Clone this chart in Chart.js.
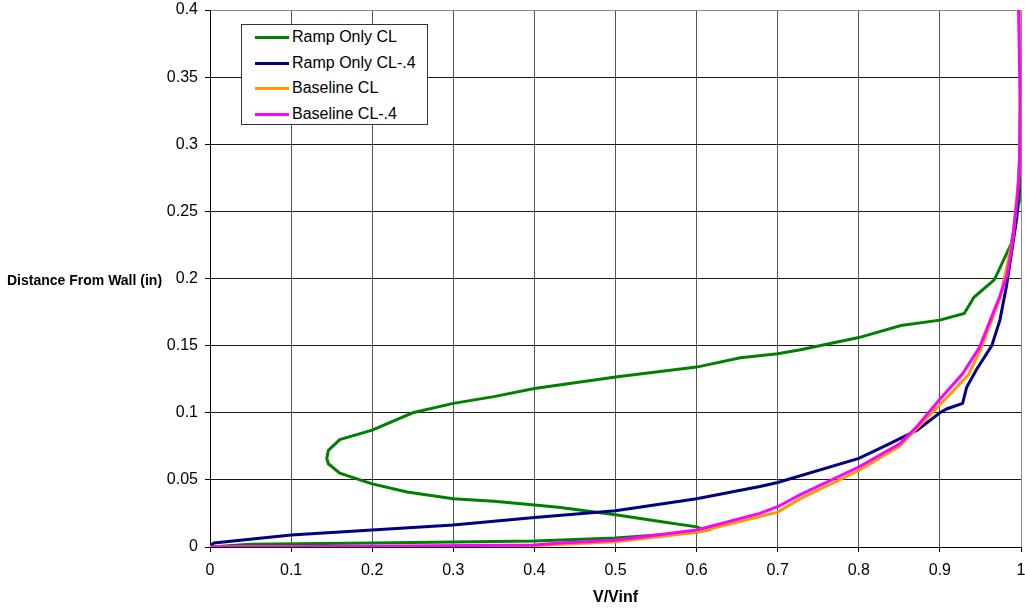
<!DOCTYPE html>
<html>
<head>
<meta charset="utf-8">
<script src="https://cdn.jsdelivr.net/npm/chart.js@4/dist/chart.umd.min.js"></script>
<style>
  html, body { margin: 0; padding: 0; background: #fff; }
  #wrap { position: relative; width: 1025px; height: 614px; font-family: "Liberation Sans", Arial, sans-serif; }
  #c { position: absolute; left: 0; top: 0; }
  #ytitle { position: absolute; left: 7px; top: 271px; font-weight: bold; font-size: 14px; line-height: 18px; color: #000; white-space: nowrap; }
  #legend { position: absolute; left: 241px; top: 24px; width: 185px; height: 99px; border: 1px solid #333; background: #fff; }
  .li { position: absolute; left: 0; height: 20px; font-size: 16px; line-height: 20px; color: #000; white-space: nowrap; }
  .li span.sw { position: absolute; left: 13px; top: 9px; width: 34px; height: 3px; }
  .li span.tx { position: absolute; left: 50px; top: 0; }
</style>
</head>
<body>
<div id="wrap">
  <canvas id="c" width="1025" height="614"></canvas>
  <div id="ytitle">Distance From Wall (in)</div>
  <div id="legend"></div>
</div>
<script>
// ---- Data ----
const seriesNames = ["Ramp Only CL", "Ramp Only CL-.4", "Baseline CL", "Baseline CL-.4"];
const seriesColors = ["#008000", "#000080", "#FF9900", "#FF00FF"];

const rampCL_v = [0, 0.05, 0.2, 0.3, 0.4, 0.5, 0.6, 0.612, 0.6, 0.555, 0.5, 0.432, 0.407, 0.35, 0.3, 0.243, 0.2, 0.16, 0.146, 0.144, 0.146, 0.16, 0.2, 0.25, 0.3, 0.35, 0.4, 0.5, 0.6, 0.654, 0.7, 0.728, 0.8, 0.852, 0.9, 0.93, 0.942, 0.967, 0.971, 0.988, 0.998, 0.999, 1.0, 1.0];
const rampCL_y = [0, 0.002, 0.003, 0.0037, 0.0045, 0.0067, 0.011, 0.0125, 0.015, 0.019, 0.024, 0.0295, 0.031, 0.034, 0.036, 0.041, 0.047, 0.055, 0.062, 0.066, 0.072, 0.080, 0.087, 0.1, 0.107, 0.112, 0.118, 0.1266, 0.134, 0.141, 0.144, 0.147, 0.156, 0.165, 0.169, 0.174, 0.186, 0.199, 0.204, 0.226, 0.258, 0.3, 0.35, 0.4];

const rampCL4_v = [0, 0.005, 0.1, 0.2, 0.3, 0.4, 0.5, 0.6, 0.678, 0.7, 0.8, 0.835, 0.872, 0.9, 0.909, 0.928, 0.933, 0.945, 0.964, 0.974, 0.982, 0.995, 0.999, 1.0];
const rampCL4_y = [0.001, 0.003, 0.009, 0.0127, 0.0164, 0.022, 0.027, 0.036, 0.045, 0.048, 0.066, 0.076, 0.087, 0.100, 0.103, 0.107, 0.119, 0.132, 0.150, 0.169, 0.194, 0.246, 0.3, 0.4];

const baseCL_v = [0, 0.2, 0.4, 0.5, 0.6, 0.7, 0.728, 0.8, 0.85, 0.9, 0.93, 0.935, 0.95, 0.974, 0.99, 0.998, 1.0];
const baseCL_y = [0, 0.0004, 0.001, 0.004, 0.011, 0.026, 0.036, 0.057, 0.075, 0.106, 0.125, 0.128, 0.147, 0.185, 0.23, 0.28, 0.4];

const baseCL4_v = [0, 0.2, 0.4, 0.432, 0.5, 0.6, 0.678, 0.7, 0.728, 0.8, 0.851, 0.872, 0.9, 0.928, 0.949, 0.974, 0.983, 0.988, 0.995, 0.998, 0.999, 0.997];
const baseCL4_y = [0, 0.0005, 0.0015, 0.003, 0.005, 0.0127, 0.025, 0.030, 0.039, 0.0596, 0.077, 0.09, 0.110, 0.129, 0.149, 0.187, 0.203, 0.221, 0.258, 0.28, 0.33, 0.4];

const xTickLabels = ["0", "0.1", "0.2", "0.3", "0.4", "0.5", "0.6", "0.7", "0.8", "0.9", "1"];
const yTickLabels = ["0", "0.05", "0.1", "0.15", "0.2", "0.25", "0.3", "0.35", "0.4"];

// ---- Build datasets ----
function pts(xs, ys) { return xs.map((v, i) => ({ x: v, y: ys[i] })); }
const seriesData = [pts(rampCL_v, rampCL_y), pts(rampCL4_v, rampCL4_y), pts(baseCL_v, baseCL_y), pts(baseCL4_v, baseCL4_y)];
const drawOrder = [4, 3, 2, 1]; // magenta on top

const datasets = seriesNames.map((n, i) => ({
  label: n,
  data: seriesData[i],
  borderColor: seriesColors[i],
  backgroundColor: seriesColors[i],
  borderWidth: 3,
  pointRadius: 0,
  showLine: true,
  tension: 0,
  order: drawOrder[i]
}));

// HTML legend
const lg = document.getElementById('legend');
seriesNames.forEach((n, i) => {
  const d = document.createElement('div');
  d.className = 'li';
  d.style.top = (2 + i * 25.7) + 'px';
  d.innerHTML = '<span class="sw" style="background:' + seriesColors[i] + '"></span><span class="tx"></span>';
  d.querySelector('.tx').textContent = n;
  lg.appendChild(d);
});

const tickFont = { family: "'Liberation Sans', Arial, sans-serif", size: 16 };

new Chart(document.getElementById('c'), {
  type: 'scatter',
  data: { datasets },
  options: {
    responsive: false,
    animation: false,
    layout: { padding: { top: 10, right: 4, left: 0, bottom: 0 } },
    plugins: { legend: { display: false }, tooltip: { enabled: false } },
    scales: {
      x: {
        type: 'linear', min: 0, max: 1,
        afterFit: (s) => { s.height = 67; s.paddingLeft = 0; s.paddingRight = 0; },
        ticks: {
          stepSize: 0.1, color: '#000', font: tickFont, padding: 9, maxRotation: 0,
          callback: (v) => { const i = Math.round(v * 10); return xTickLabels[i]; }
        },
        grid: {
          color: (ctx) => (ctx.index === 10 ? '#8a8a8a' : '#555'),
          lineWidth: 1, tickLength: 5, drawTicks: true, tickColor: '#000'
        },
        border: { color: '#000', width: 1 },
        title: { display: true, text: 'V/Vinf', color: '#000', font: { family: "'Liberation Sans', Arial, sans-serif", size: 16, weight: 'bold' }, padding: { top: 0, bottom: 7 } }
      },
      y: {
        type: 'linear', min: 0, max: 0.4,
        afterFit: (s) => { s.width = 210; s.paddingTop = 0; s.paddingBottom = 0; },
        ticks: {
          stepSize: 0.05, color: '#000', font: tickFont, padding: 7,
          callback: (v) => { const i = Math.round(v * 20); return yTickLabels[i]; }
        },
        grid: {
          color: (ctx) => (ctx.index === 8 ? '#8a8a8a' : '#1a1a1a'),
          lineWidth: 1, tickLength: 5, drawTicks: true, tickColor: '#000'
        },
        border: { color: '#000', width: 1 }
      }
    }
  }
});
</script>
</body>
</html>
